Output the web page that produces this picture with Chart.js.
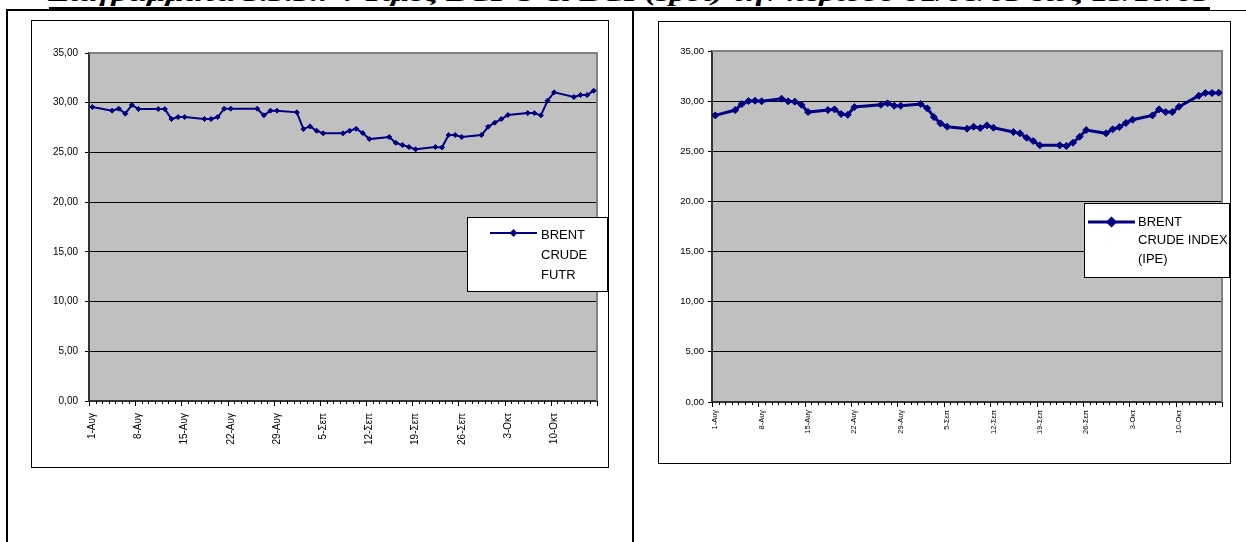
<!DOCTYPE html>
<html><head><meta charset="utf-8">
<script src="https://cdn.jsdelivr.net/npm/chart.js@4"></script>
<style>
html,body{margin:0;padding:0;background:#fff;width:1246px;height:542px;overflow:hidden;position:relative;font-family:"Liberation Sans",Arial,sans-serif;}
.abs{position:absolute;background:#000;}
#title{position:absolute;left:49px;top:-16px;font:bold italic 20px "Liberation Serif",serif;white-space:nowrap;line-height:20px;transform-origin:0 0;color:#000;}
.frame{position:absolute;border:1px solid #000;box-sizing:border-box;background:#fff;}
.frame canvas{position:absolute;left:0;top:0;}
</style></head><body>
<div id="title">Διαγράμματα 3.3.3.7 : Τιμές BCFU &amp; BCI (spot) την περίοδο 01/08/03 έως 15/10/03</div>
<div class="abs" style="left:6px;top:9px;width:1204px;height:2px"></div>
<div class="abs" style="left:49px;top:7px;width:1161px;height:2px"></div>
<div class="abs" style="left:1210px;top:10px;width:36px;height:1px"></div>
<div class="abs" style="left:6px;top:9px;width:2px;height:533px"></div>
<div class="abs" style="left:632px;top:9px;width:2px;height:533px"></div>

<div class="frame" style="left:31px;top:20px;width:578px;height:448px"><canvas id="c1" width="576" height="446"></canvas></div>
<div class="frame" style="left:658px;top:21px;width:573px;height:443px"><canvas id="c2" width="571" height="441"></canvas></div>

<script>
// ---- data ----
const tradingDays = ['01/08','04/08','05/08','06/08','07/08','08/08','11/08','12/08','13/08','14/08','15/08',
  '18/08','19/08','20/08','21/08','22/08','26/08','27/08','28/08','29/08',
  '01/09','02/09','03/09','04/09','05/09','08/09','09/09','10/09','11/09','12/09',
  '15/09','16/09','17/09','18/09','19/09','22/09','23/09','24/09','25/09','26/09',
  '29/09','30/09','01/10','02/10','03/10','06/10','07/10','08/10','09/10','10/10',
  '13/10','14/10','15/10','16/10'];
const bcfuValues = [29.56,29.20,29.40,28.90,29.77,29.36,29.36,29.36,28.36,28.56,
  28.56,28.36,28.36,28.56,29.40,29.40,29.40,28.73,29.20,29.20,
  29.03,27.35,27.62,27.18,26.92,26.92,27.18,27.38,26.95,26.34,
  26.55,25.97,25.74,25.54,25.31,25.54,25.50,26.75,26.75,26.55,
  26.75,27.58,27.99,28.36,28.76,28.96,28.96,28.73,30.20,31.04,
  30.57,30.77,30.77,31.21];
const bciValues = [28.58,29.11,29.71,30.01,30.04,29.98,30.24,29.98,29.95,29.64,
  28.91,29.11,29.18,28.71,28.64,29.41,29.64,29.78,29.54,29.54,
  29.71,29.28,28.41,27.78,27.45,27.25,27.45,27.32,27.58,27.35,
  26.92,26.79,26.35,26.02,25.59,25.59,25.52,25.85,26.45,27.12,
  26.79,27.19,27.42,27.82,28.15,28.58,29.18,28.91,28.91,29.44,
  30.54,30.81,30.81,30.84];
const tickLabels = ['1-Αυγ','8-Αυγ','15-Αυγ','22-Αυγ','29-Αυγ','5-Σεπ','12-Σεπ','19-Σεπ','26-Σεπ','3-Οκτ','10-Οκτ'];
const tickDays = [0,7,14,21,28,35,42,49,56,63,70];
const seriesNames = [['BRENT','CRUDE','FUTR'], ['BRENT','CRUDE INDEX','(IPE)']];
const yTicks = [0,5,10,15,20,25,30,35];
const axisDays = 77; // 1-Aug .. 16-Oct

// ---- helpers ----
function dayOffset(s){
  const [d,m] = s.split('/').map(Number);
  return Math.round((Date.UTC(2003,m-1,d) - Date.UTC(2003,7,1))/86400000);
}
function points(vals){ return tradingDays.map((s,i)=>({x:dayOffset(s), y:vals[i]})); }

const plotDeco = {
  id:'plotDeco',
  beforeDraw(chart){
    const {ctx, chartArea:a} = chart;
    ctx.save(); ctx.fillStyle='#C0C0C0';
    ctx.fillRect(a.left,a.top,a.right-a.left,a.bottom-a.top); ctx.restore();
  },
  beforeDatasetsDraw(chart, args, o){
    const {ctx, chartArea:a} = chart;
    ctx.save();
    ctx.strokeStyle='#808080'; ctx.lineWidth=2;
    ctx.beginPath(); ctx.moveTo(a.left,a.top); ctx.lineTo(a.right,a.top); ctx.lineTo(a.right,a.bottom); ctx.stroke();
    const xs = chart.scales.x;
    ctx.strokeStyle='#000'; ctx.lineWidth=1; ctx.beginPath();
    for(let i=0;i<=axisDays;i++){
      const x = Math.round(xs.getPixelForValue(i-0.5))+0.5;
      const len = i%7===0 ? o.major : o.minor;
      ctx.moveTo(x,a.bottom); ctx.lineTo(x,a.bottom+len);
    }
    ctx.stroke(); ctx.restore();
  }
};
const boxLegend = {
  id:'boxLegend',
  afterDraw(chart, args, o){
    const ctx = chart.ctx; const ds = chart.data.datasets[0];
    ctx.save();
    ctx.fillStyle='#fff'; ctx.fillRect(o.x,o.y,o.w,o.h);
    ctx.strokeStyle='#000'; ctx.lineWidth=1; ctx.strokeRect(o.x+0.5,o.y+0.5,o.w-1,o.h-1);
    ctx.strokeStyle=ds.borderColor; ctx.lineWidth=ds.borderWidth;
    ctx.beginPath(); ctx.moveTo(o.lx1,o.ly); ctx.lineTo(o.lx2,o.ly); ctx.stroke();
    ctx.fillStyle=ds.pointBackgroundColor; ctx.strokeStyle=ds.pointBorderColor;
    Chart.helpers.drawPoint(ctx,{pointStyle:'rectRot',radius:ds.pointRadius,borderWidth:1},(o.lx1+o.lx2)/2,o.ly);
    ctx.fillStyle='#000'; ctx.font=o.fs+'px "Liberation Sans", Arial, sans-serif';
    ctx.textBaseline='middle'; ctx.textAlign='left';
    o.lines.forEach((t,i)=>ctx.fillText(t,o.tx,o.ty+i*o.lh));
    ctx.restore();
  }
};

function makeChart(id, vals, label, cfg){
  return new Chart(document.getElementById(id), {
    type:'line',
    data:{datasets:[{
      label: label.join(' '),
      data: points(vals),
      borderColor:'#000080', backgroundColor:'#000080',
      pointBackgroundColor:'#000080', pointBorderColor:'#000080',
      pointStyle:'rectRot', pointRadius:cfg.pr, pointBorderWidth:1,
      borderWidth:cfg.bw, tension:0, fill:false
    }]},
    options:{
      responsive:false, animation:false, devicePixelRatio:1,
      layout:{padding:{left:0,top:cfg.top,right:cfg.right,bottom:0}},
      plugins:{legend:{display:false}, tooltip:{enabled:false},
        plotDeco:{major:cfg.major, minor:cfg.minor},
        boxLegend:cfg.legend},
      scales:{
        x:{type:'linear', min:-0.5, max:axisDays-0.5,
          afterBuildTicks:(s)=>{ s.ticks = tickDays.map(v=>({value:v})); },
          afterFit:(s)=>{ s.height = cfg.xh; },
          grid:{display:false, drawTicks:false},
          border:{display:true, color:'#333', width:2},
          ticks:{autoSkip:false, minRotation:90, maxRotation:90, padding:cfg.xpad,
            color:'#000', font:{family:'"Liberation Sans", Arial, sans-serif', size:cfg.xfs},
            callback:(v,i)=>tickLabels[i]}
        },
        y:{min:0, max:35,
          afterBuildTicks:(s)=>{ s.ticks = yTicks.map(v=>({value:v})); },
          afterFit:(s)=>{ s.width = cfg.yw; },
          grid:{color:(c)=> (c.tick && (c.tick.value===0||c.tick.value===35)) ? 'rgba(0,0,0,0)' : '#000',
            tickColor:'#000', lineWidth:1, tickLength:4},
          border:{display:true, color:'#333', width:2},
          ticks:{padding:cfg.ypad, color:'#000',
            font:{family:'"Liberation Sans", Arial, sans-serif', size:cfg.yfs},
            callback:(v)=>Number(v).toFixed(2).replace('.',',')}
        }
      }
    },
    plugins:[plotDeco, boxLegend]
  });
}

makeChart('c1', bcfuValues, seriesNames[0], {
  pr:2.5, bw:2, top:32, right:11, xh:66, yw:57, xpad:12, ypad:7, xfs:10, yfs:10, major:5, minor:3,
  legend:{x:435,y:196,w:141,h:75,lx1:458,lx2:505,ly:212,tx:509,ty:214,lh:20,fs:13,lines:seriesNames[0]}
});
makeChart('c2', bciValues, seriesNames[1], {
  pr:3.5, bw:3, top:29, right:8, xh:61, yw:53, xpad:8, ypad:4, xfs:7.5, yfs:9.5, major:5, minor:3,
  legend:{x:425,y:181,w:146,h:75,lx1:429,lx2:476,ly:200,tx:479,ty:200,lh:18.5,fs:13,lines:seriesNames[1]}
});

// fit title width to reference span
const t = document.getElementById('title');
const w = t.getBoundingClientRect().width;
t.style.transform = 'scaleX(' + (1161 / w) + ')';
</script>
</body></html>
